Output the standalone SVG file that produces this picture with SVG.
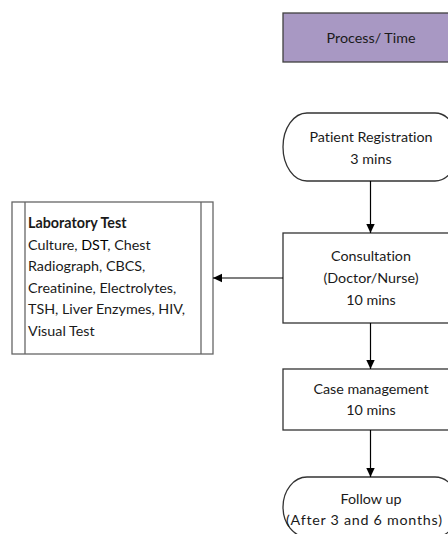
<svg xmlns="http://www.w3.org/2000/svg" width="448" height="534" viewBox="0 0 448 534">
<defs>
<style>
.t{font-family:Lato,"Open Sans","Liberation Sans",sans-serif;font-size:14.3px;fill:#1a1a1a;font-variant-ligatures:none}
.c{text-anchor:middle}
.box{fill:#fff;stroke:#333;stroke-width:1.3}
.lab{fill:#fff;stroke:#666;stroke-width:1.3}
.con{stroke:#000;stroke-width:1.2;fill:none}
</style>
<marker id="ah" markerWidth="10" markerHeight="10" refX="9" refY="5" orient="auto" markerUnits="userSpaceOnUse">
<path d="M0,0.8 L9,5 L0,9.2 Z" fill="#000"/>
</marker>
</defs>
<rect width="448" height="534" fill="#fff"/>
<g id="header">
<rect x="283" y="13" width="176" height="49" fill="#A898C3" stroke="#404040" stroke-width="1.3"/>
<text class="t c" x="371" y="43">Process/ Time</text>
</g>
<g id="registration">
<rect class="box" x="283" y="113" width="176" height="68" rx="24" ry="34"/>
<text class="t c" x="371" y="142">Patient Registration</text>
<text class="t c" x="371" y="164">3 mins</text>
</g>
<g id="consultation">
<rect class="box" x="283" y="233" width="176" height="90"/>
<text class="t c" x="371" y="261">Consultation</text>
<text class="t c" x="371" y="283">(Doctor/Nurse)</text>
<text class="t c" x="371" y="305">10 mins</text>
</g>
<g id="case">
<rect class="box" x="283" y="369" width="176" height="61"/>
<text class="t c" x="371" y="394">Case management</text>
<text class="t c" x="371" y="415">10 mins</text>
</g>
<g id="followup">
<rect class="box" x="283" y="477" width="176" height="60" rx="24" ry="30"/>
<text class="t c" x="371" y="504">Follow up</text>
<text class="t c" x="364" y="525" textLength="156">(After 3 and 6 months)</text>
</g>
<g id="laboratory">
<rect class="lab" x="12" y="202" width="201" height="152"/>
<line class="lab" x1="25" y1="202" x2="25" y2="354"/>
<line class="lab" x1="201" y1="202" x2="201" y2="354"/>
<text class="t" x="28" y="228"><tspan font-weight="bold">Laboratory Test</tspan></text>
<text class="t" x="28" y="249.5">Culture, <tspan fill="#000">DST</tspan>, Chest</text>
<text class="t" x="28" y="271">Radiograph, CBCS,</text>
<text class="t" x="28" y="292.5">Creatinine, Electrolytes,</text>
<text class="t" x="28" y="314">TSH, Liver Enzymes, HIV,</text>
<text class="t" x="28" y="335.5">Visual Test</text>
</g>
<g id="connectors">
<line class="con" x1="370.5" y1="181" x2="370.5" y2="233" marker-end="url(#ah)"/>
<line class="con" x1="370.5" y1="323" x2="370.5" y2="369" marker-end="url(#ah)"/>
<line class="con" x1="370.5" y1="430" x2="370.5" y2="477" marker-end="url(#ah)"/>
<line class="con" x1="283" y1="278" x2="213" y2="278" marker-end="url(#ah)"/>
</g>
</svg>
